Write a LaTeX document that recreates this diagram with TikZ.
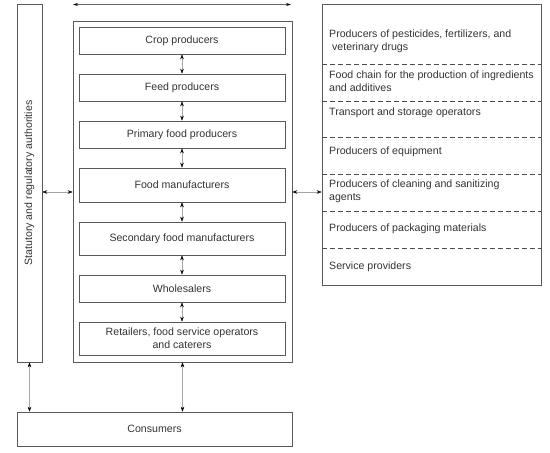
\documentclass[tikz,border=0pt]{standalone}
\usepackage{fontspec}
\setmainfont{Liberation Sans}
\usetikzlibrary{arrows.meta}
\begin{document}
\begin{tikzpicture}[x=1pt,y=-1pt,
  every node/.style={font=\fontsize{10.6}{13}\selectfont, text=black!80},
  frame/.style={draw=black!65, line width=0.6pt},
  stepbox/.style={frame, minimum width=206pt, inner sep=0pt, align=center},
  conn/.style={draw=black!35, line width=0.4pt, {Stealth[length=5pt,width=3.5pt,black]}-{Stealth[length=5pt,width=3.5pt,black]}},
  topconn/.style={draw=black!60, line width=0.6pt, {Stealth[length=5pt,width=3pt,black]}-{Stealth[length=5pt,width=3pt,black]}},
  divider/.style={draw=black!70, line width=0.6pt, dash pattern=on 5pt off 3pt},
  item/.style={anchor=west, align=left, inner sep=0pt}
]
\useasboundingbox (0,0) rectangle (550,453);
% left authority box
\node[frame, minimum width=25pt, minimum height=358pt, inner sep=0pt] (auth) at (29.5,183) {};
\node[rotate=90] (authtxt) at (auth.center) {Statutory and regulatory authorities};
% main box
\node[frame, minimum width=219pt, minimum height=341pt, inner sep=0pt] (main) at (182.5,191.5) {};
% top arrow
\coordinate (tl) at (73,4.5);
\coordinate (tr) at (291,4.5);
\draw[topconn] (tl) -- (tr);
% inner boxes
\node[stepbox, minimum height=27pt] (crop) at (182,40.5) {Crop producers};
\node[stepbox, minimum height=27pt] (feed) at (182,87.5) {Feed producers};
\node[stepbox, minimum height=27pt] (prim) at (182,134.5) {Primary food producers};
\node[stepbox, minimum height=34pt] (manu) at (182,185) {Food manufacturers};
\node[stepbox, minimum height=33pt] (sec) at (182,238.5) {Secondary food manufacturers};
\node[stepbox, minimum height=27pt] (whole) at (182,288.5) {Wholesalers};
\node[stepbox, minimum height=33pt] (ret) at (182,338.5) {Retailers, food service operators\\and caterers};
\draw[conn] (crop.south) -- (feed.north);
\draw[conn] (feed.south) -- (prim.north);
\draw[conn] (prim.south) -- (manu.north);
\draw[conn] (manu.south) -- (sec.north);
\draw[conn] (sec.south) -- (whole.north);
\draw[conn] (whole.south) -- (ret.north);
% consumers
\node[frame, minimum width=275pt, minimum height=34pt, inner sep=0pt] (cons) at (154.5,429) {Consumers};
\draw[conn] (auth.south) -- (auth.south |- cons.north);
\draw[conn] (main.south) -- (main.south |- cons.north);
% right box
\node[frame, minimum width=219pt, minimum height=281pt, inner sep=0pt] (right) at (431.5,144.5) {};
\draw[conn] (auth.east |- 0,192) -- (main.west |- 0,192);
\draw[conn] (main.east |- 0,192) -- (right.west |- 0,192);
% dividers
\foreach \y/\n in {64/d1,101/d2,137/d3,174/d4,211/d5,248/d6}{
  \coordinate (\n a) at (322,\y);
  \coordinate (\n b) at (541,\y);
  \draw[divider] (\n a) -- (\n b);
}
% items
\node[item] (i1) at (329,41) {Producers of pesticides, fertilizers, and\\\ veterinary drugs};
\node[item] (i2) at (329,81.5) {Food chain for the production of ingredients\\and additives};
\node[item] (i3) at (329,113) {Transport and storage operators};
\node[item] (i4) at (329,152) {Producers of equipment};
\node[item] (i5) at (329,191.5) {Producers of cleaning and sanitizing\\agents};
\node[item] (i6) at (329,229) {Producers of packaging materials};
\node[item] (i7) at (329,267) {Service providers};
\end{tikzpicture}
\end{document}
